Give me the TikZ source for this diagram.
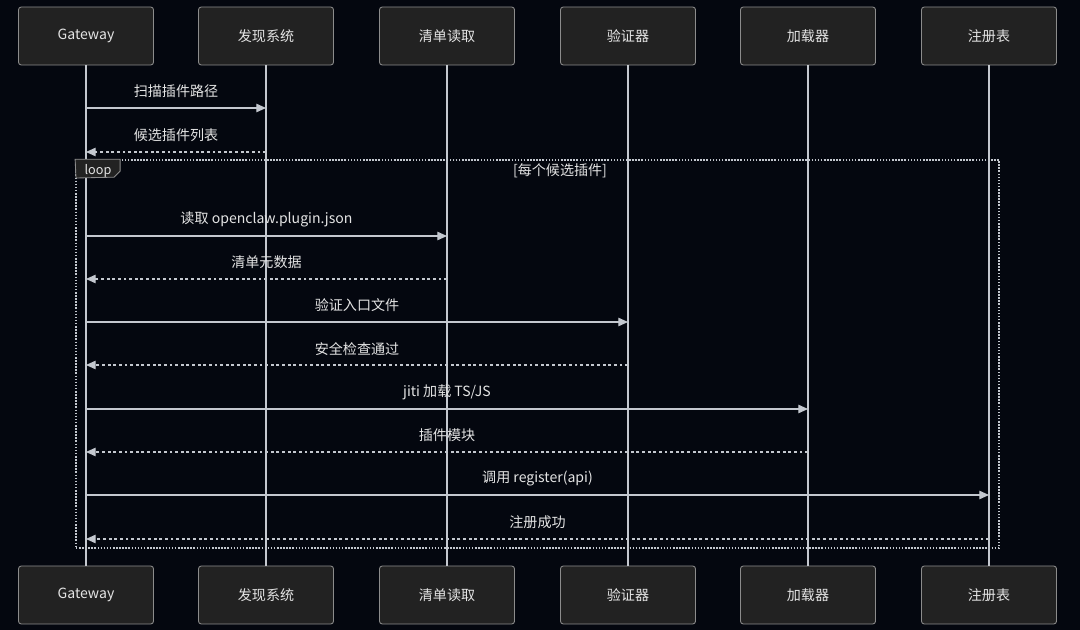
\documentclass[tikz,border=0pt]{standalone}
\usepackage{fontspec}
\setmainfont{Noto Sans CJK SC}
\usetikzlibrary{arrows.meta,positioning,calc}
\definecolor{night}{HTML}{04070F}
\definecolor{boxfill}{HTML}{222222}
\definecolor{boxline}{HTML}{8C8C8C}
\definecolor{wire}{HTML}{C4C8CF}
\definecolor{paper}{HTML}{E4E4E4}

\begin{document}
\begin{tikzpicture}[
  x=0.025cm, y=-0.025cm,
  font=\fontsize{10pt}{12pt}\selectfont, text=paper,
  actor/.style={draw=boxline,fill=boxfill,rounded corners=2pt,line width=.6pt,minimum width=3.375cm,minimum height=1.45cm,inner sep=0pt},
  life/.style={draw=wire,line width=.9pt},
  msg/.style={-{Triangle[length=2.4mm,width=2.1mm]},draw=wire,line width=.8pt},
  reply/.style={msg,dash pattern=on 2pt off 2pt},
  frame/.style={draw=wire,line width=1.1pt,dash pattern=on 1.1pt off 1.1pt},
  tag/.style={font=\fontsize{9pt}{10pt}\selectfont},
]
\fill[night] (0,0) rectangle (1080,630);
\useasboundingbox (0,0) rectangle (1080,630);

% participants, top and bottom, with their lifelines
\foreach \x/\id/\name in {86/gw/Gateway, 266/disc/发现系统, 447/mani/清单读取,
  628/vali/验证器, 808/load/加载器, 989/reg/注册表} {
  \node[actor] (\id) at (\x,36) {\name};
  \node[actor] (\id-b) at (\x,595) {\name};
  \draw[life] (\id) -- (\id-b);
}

% loop frame
\node[frame,minimum width=23.075cm,minimum height=9.7cm,inner sep=0pt] (loop) at (537.5,354) {};
\draw[draw=boxline,fill=boxfill,line width=.6pt] (loop.north west) -- ++(45,0) -- ++(0,12) -- ++(-6,6) -- (76,178) -- cycle;
\node[tag] (looplbl) at (98,171) {loop};
\node (loopcond) at (560,171) {[每个候选插件]};

% messages
\foreach \y/\a/\b/\style/\txt in {
  108/gw/disc/msg/扫描插件路径,
  152/disc/gw/reply/候选插件列表,
  236/gw/mani/msg/读取 openclaw.plugin.json,
  279/mani/gw/reply/清单元数据,
  322/gw/vali/msg/验证入口文件,
  365/vali/gw/reply/安全检查通过,
  409/gw/load/msg/{jiti 加载 TS/JS},
  452/load/gw/reply/插件模块,
  495/gw/reg/msg/调用 register(api),
  539/reg/gw/reply/注册成功}
  \draw[\style] (\a |- 0,\y) -- (\b |- 0,\y) node[midway,yshift=.41cm] {\txt};
\end{tikzpicture}
\end{document}
